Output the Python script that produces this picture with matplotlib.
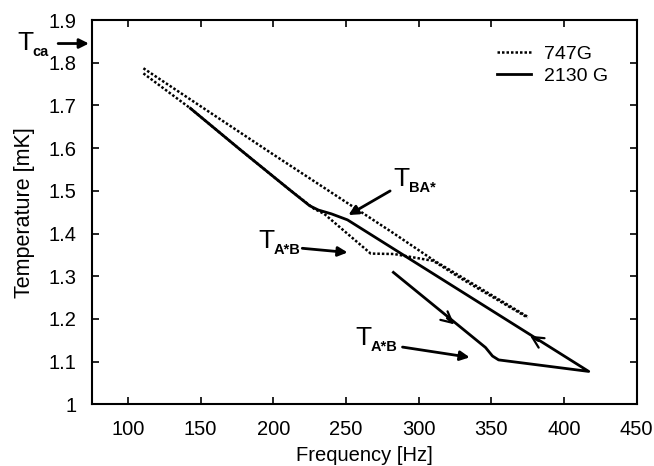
import numpy as np
import matplotlib
matplotlib.use('Agg')
import matplotlib.pyplot as plt

plt.rcParams['font.family'] = ['Liberation Sans', 'DejaVu Sans']

# 747G, upper dotted branch
f_747_up = [110.6, 200, 283, 310, 375]
t_747_up = [1.787, 1.585, 1.400, 1.338, 1.205]
# 747G, lower dotted branch
f_747_lo = [110.6, 143, 177, 211, 228, 235, 267, 283, 310, 330, 375]
t_747_lo = [1.775, 1.693, 1.597, 1.503, 1.458, 1.446, 1.353, 1.352, 1.336, 1.293, 1.203]

# 2130 G, solid loop
f_2130 = [143, 177, 211, 225, 231, 240, 251, 417, 355, 350.8, 346, 282.6]
t_2130 = [1.693, 1.597, 1.503, 1.465, 1.455, 1.446, 1.432, 1.077, 1.104, 1.113, 1.133, 1.309]

fig = plt.figure(figsize=(6.54, 4.66), dpi=100)
ax = fig.add_axes([0.1402, 0.1324, 0.8333, 0.8246])

ax.plot(f_747_up, t_747_up, color='black', lw=1.8, linestyle=(0, (1, 0.8)), label='747G')
ax.plot(f_747_lo, t_747_lo, color='black', lw=1.8, linestyle=(0, (1, 0.8)))
ax.plot(f_2130, t_2130, color='black', lw=2, label='2130 G')

# direction chevrons on the solid loop
ax.annotate('', xy=(326, 1.183), xytext=(318, 1.206),
            arrowprops=dict(arrowstyle='->', lw=1.6, color='black', mutation_scale=20))
ax.annotate('', xy=(375, 1.164), xytext=(384, 1.145),
            arrowprops=dict(arrowstyle='->', lw=1.6, color='black', mutation_scale=20))

ax.set_xlim(75, 450)
ax.set_ylim(1.0, 1.9)
ax.set_xticks([100, 150, 200, 250, 300, 350, 400, 450])
ax.set_yticks([1.0, 1.1, 1.2, 1.3, 1.4, 1.5, 1.6, 1.7, 1.8, 1.9])
ax.set_yticklabels(['1', '1.1', '1.2', '1.3', '1.4', '1.5', '1.6', '1.7', '1.8', '1.9'])
ax.tick_params(direction='in', top=True, right=True, length=5, width=1.2,
               labelsize=14.5, pad=11)
for s in ax.spines.values():
    s.set_linewidth(1.5)

ax.set_xlabel('Frequency [Hz]', fontsize=14.5, labelpad=5)
ax.set_ylabel('Temperature [mK]', fontsize=15.5, labelpad=10)

ax.legend(loc='upper left', frameon=False, fontsize=14, handlelength=1.75,
          handletextpad=0.7, bbox_to_anchor=(0.729, 0.955), borderaxespad=0,
          labelspacing=0.25)


def tlabel(x, y, sub):
    ax.annotate('T', xy=(x, y), fontsize=19, ha='left', va='center',
                annotation_clip=False)
    ax.annotate(sub, xy=(x, y), xytext=(11, -6.5), textcoords='offset points',
                fontsize=10.5, fontweight='bold', ha='left', va='center',
                annotation_clip=False)


arrow_kw = dict(arrowstyle='-|>', lw=2, color='black', mutation_scale=14)

# T_ca arrow outside the axes
ax.annotate('', xy=(75, 1.845), xytext=(50, 1.845), annotation_clip=False,
            arrowprops=arrow_kw)
tlabel(23.6, 1.847, 'ca')

# T_BA*
ax.annotate('', xy=(250, 1.44), xytext=(282, 1.503), arrowprops=arrow_kw)
tlabel(282.5, 1.528, 'BA*')

# T_A*B upper
ax.annotate('', xy=(253, 1.355), xytext=(218, 1.366), arrowprops=arrow_kw)
tlabel(189.5, 1.382, 'A*B')

# T_A*B lower
ax.annotate('', xy=(337, 1.109), xytext=(287, 1.135), arrowprops=arrow_kw)
tlabel(256.3, 1.156, 'A*B')

fig.savefig('out.png', dpi=100)
